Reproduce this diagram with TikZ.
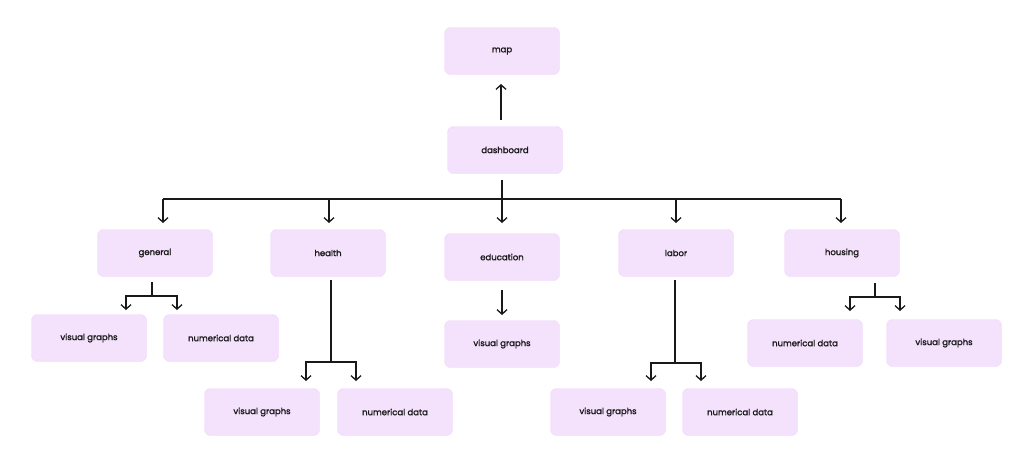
\documentclass[tikz,border=0pt]{standalone}
\usepackage{fontspec}
\setmainfont{Poppins}
\newfontfamily\boxfont{Poppins}[FakeBold=1.6]
\usetikzlibrary{arrows.meta}
\definecolor{boxfill}{HTML}{F4E1FC}
\definecolor{boxline}{HTML}{F0D8FA}
\tikzset{
  box/.style={rounded corners=6pt, fill=boxfill, draw=boxline, line width=0.4pt,
    minimum width=115pt, minimum height=47pt, inner sep=0pt,
    font=\boxfont\fontsize{8.5}{10}\selectfont, text=black!90},
  conn/.style={line width=1.5pt, draw=black!90},
  arr/.style={conn, -{Straight Barb[length=4.5pt,width=10pt,line width=1.3pt]}},
}
\begin{document}
\begin{tikzpicture}[x=1pt,y=-1pt]
\useasboundingbox (0,0) rectangle (1024,463);
% nodes
\node[box] (map) at (502,51) {map};
\node[box] (dash) at (505,150) {dashboard};
\node[box] (gen) at (155,253) {general};
\node[box] (hea) at (328,253) {health};
\node[box] (edu) at (502,257) {education};
\node[box] (lab) at (676,253) {labor};
\node[box] (hou) at (842,253) {housing};
\node[box] (genv) at (89,338) {visual graphs};
\node[box] (genn) at (221,338) {numerical data};
\node[box] (heav) at (262,412) {visual graphs};
\node[box] (hean) at (395,412) {numerical data};
\node[box] (eduv) at (502,344) {visual graphs};
\node[box] (labv) at (608,412) {visual graphs};
\node[box] (labn) at (740,412) {numerical data};
\node[box] (houn) at (805,343) {numerical data};
\node[box] (houv) at (944,343) {visual graphs};
% coordinates
\coordinate (dtop) at (501,120);
\coordinate (mbot) at (501,84);
\coordinate (dbot) at (502,180);
\coordinate (bus) at (502,199);
\coordinate (busL) at (163,199);
\coordinate (busR) at (841,199);
\foreach \x/\n in {163/a,329/b,502/c,676/d,841/e}{
  \coordinate (t\n) at (\x,223);
}
% dashboard -> map
\draw[arr] (dtop) -- (mbot);
% main bus
\draw[conn] (dbot) -- (bus);
\draw[conn] (busL) -- (busR);
\draw[arr] (busL) -- (ta);
\draw[arr] (329,199) -- (tb);
\draw[arr] (bus) -- (tc);
\draw[arr] (676,199) -- (td);
\draw[arr] (busR) -- (te);
% general
\coordinate (g0) at (152,282);
\coordinate (g1) at (152,296);
\coordinate (g1l) at (126,296);
\coordinate (g1r) at (177,296);
\coordinate (g2l) at (126,310);
\coordinate (g2r) at (177,310);
\draw[conn] (g0) -- (g1);
\draw[arr] (g1) -- (g1l) -- (g2l);
\draw[arr] (g1) -- (g1r) -- (g2r);
% health
\coordinate (h0) at (331,280);
\coordinate (h1) at (331,362);
\coordinate (h1l) at (306,362);
\coordinate (h1r) at (356,362);
\coordinate (h2l) at (306,381);
\coordinate (h2r) at (356,381);
\draw[conn] (h0) -- (h1);
\draw[arr] (h1) -- (h1l) -- (h2l);
\draw[arr] (h1) -- (h1r) -- (h2r);
% education
\coordinate (e0) at (502,290);
\coordinate (e1) at (502,315);
\draw[arr] (e0) -- (e1);
% labor
\coordinate (l0) at (675,280);
\coordinate (l1) at (675,363);
\coordinate (l1l) at (651,363);
\coordinate (l1r) at (701,363);
\coordinate (l2l) at (651,381);
\coordinate (l2r) at (701,381);
\draw[conn] (l0) -- (l1);
\draw[arr] (l1) -- (l1l) -- (l2l);
\draw[arr] (l1) -- (l1r) -- (l2r);
% housing
\coordinate (o0) at (875,283);
\coordinate (o1) at (875,297);
\coordinate (o1l) at (850,297);
\coordinate (o1r) at (900,297);
\coordinate (o2l) at (850,311);
\coordinate (o2r) at (900,311);
\draw[conn] (o0) -- (o1);
\draw[arr] (o1) -- (o1l) -- (o2l);
\draw[arr] (o1) -- (o1r) -- (o2r);
\end{tikzpicture}
\end{document}
